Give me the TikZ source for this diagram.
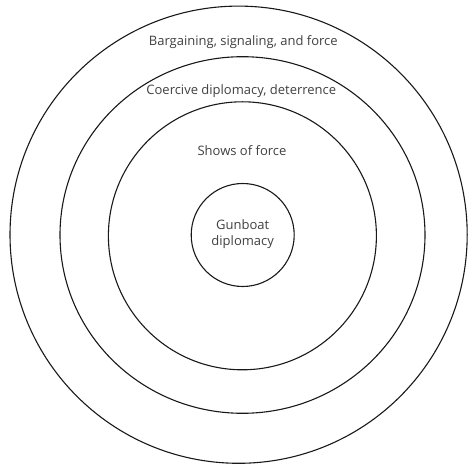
\documentclass[tikz,border=0pt]{standalone}
\usepackage{fontspec}
\setmainfont{Open Sans}
\begin{document}
\begin{tikzpicture}[x=1pt,y=-1pt,
  ring/.style={line width=1.1pt,draw=black!90},
  lbl/.style={text=black!75,font=\fontsize{13}{16}\selectfont,inner sep=0pt,align=center}]
  \useasboundingbox (0,0) rectangle (469,465);
  % rings, outer to inner
  \draw[ring] (238.6,234.7) circle[radius=228.6pt];
  \draw[ring] (242.5,235.0) circle[x radius=182.5pt,y radius=178.3pt];
  \draw[ring] (242.4,235.8) circle[radius=134pt];
  \draw[ring] (242.7,235.0) circle[radius=51.5pt];
  % labels
  \node[lbl] (bargain) at (243.3,41.7) {Bargaining, signaling, and force};
  \node[lbl] (coerce) at (241.3,91) {Coercive diplomacy, deterrence};
  \node[lbl] (shows) at (242,151) {Shows of force};
  \node[lbl] (gunboat) at (242.7,233.7) {Gunboat\\diplomacy};
\end{tikzpicture}
\end{document}
